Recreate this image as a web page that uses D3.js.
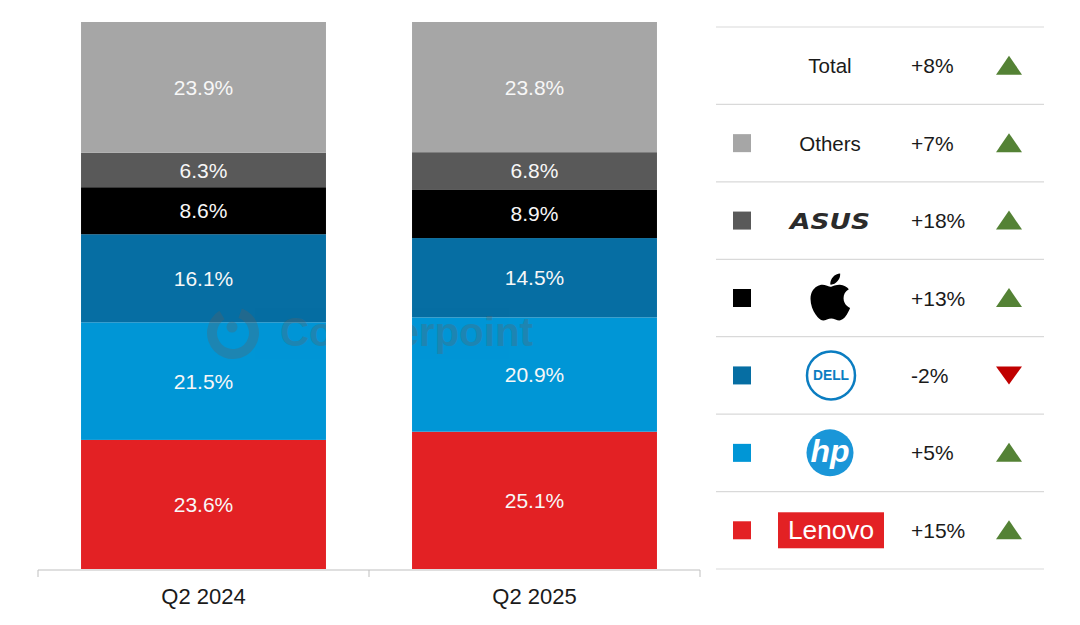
<!DOCTYPE html>
<html>
<head>
<meta charset="utf-8">
<script src="https://cdn.jsdelivr.net/npm/d3@7"></script>
<style>
  body { margin: 0; background: #fff; }
  svg { font-family: "Liberation Sans", Arial, sans-serif; }
</style>
</head>
<body>
<div id="chart"></div>
<script>
var svgWidth = 1080;
var svgHeight = 625;

// data, stacked from the bottom up
var quarters = ["Q2 2024", "Q2 2025"];
var brands = ["Lenovo", "HP", "Dell", "Apple", "ASUS", "Others"];
var share2024 = [23.6, 21.5, 16.1, 8.6, 6.3, 23.9];
var share2025 = [25.1, 20.9, 14.5, 8.9, 6.8, 23.8];
var brandColors = ["#e32124", "#0096d6", "#066ea3", "#000000", "#595959", "#a6a6a6"];

// legend table, top to bottom
var legendRows = ["Total", "Others", "ASUS", "Apple", "Dell", "HP", "Lenovo"];
var growth = ["+8%", "+7%", "+18%", "+13%", "-2%", "+5%", "+15%"];

var svg = d3.select("#chart")
  .append("svg")
  .attr("width", svgWidth)
  .attr("height", svgHeight);

var table = quarters.map(function(q, i) {
  var row = { quarter: q };
  var vals = i === 0 ? share2024 : share2025;
  brands.forEach(function(b, j) { row[b] = vals[j]; });
  return row;
});

var series = d3.stack().keys(brands)(table);

var xScale = d3.scaleBand()
  .domain(quarters)
  .range([38, 700])
  .paddingInner(0.26)
  .paddingOuter(0.13);

var xAxisScale = d3.scaleBand()
  .domain(quarters)
  .range([38, 700]);

var yScale = d3.scaleLinear()
  .domain([0, 100])
  .range([569, 22]);

var color = d3.scaleOrdinal().domain(brands).range(brandColors);

// bars
var layers = svg.append("g").selectAll("g")
  .data(series)
  .enter()
  .append("g")
  .attr("fill", d => color(d.key));

layers.selectAll("rect")
  .data(d => d)
  .enter()
  .append("rect")
  .attr("x", d => xScale(d.data.quarter))
  .attr("y", d => yScale(d[1]))
  .attr("width", xScale.bandwidth())
  .attr("height", d => yScale(d[0]) - yScale(d[1]));

// value labels
layers.selectAll("text")
  .data(d => d.map(v => ({ v: v, key: d.key })))
  .enter()
  .append("text")
  .attr("x", d => xScale(d.v.data.quarter) + xScale.bandwidth() / 2)
  .attr("y", d => (yScale(d.v[0]) + yScale(d.v[1])) / 2)
  .attr("dy", "0.36em")
  .attr("text-anchor", "middle")
  .attr("fill", "#f7f7f7")
  .attr("font-size", "21px")
  .text(d => (d.v[1] - d.v[0]).toFixed(1) + "%");

// watermark, only visible over the bars
var clip = svg.append("clipPath").attr("id", "barclip");
quarters.forEach(function(q) {
  clip.append("rect")
    .attr("x", xScale(q))
    .attr("y", yScale(100))
    .attr("width", xScale.bandwidth())
    .attr("height", yScale(0) - yScale(100));
});
var wm = svg.append("g")
  .attr("clip-path", "url(#barclip)")
  .attr("opacity", 0.3)
  .attr("fill", "#606060");
wm.append("path")
  .attr("transform", "translate(233,333)")
  .attr("d", d3.arc().innerRadius(16).outerRadius(26).startAngle(0.35).endAngle(2 * Math.PI - 0.55)());
wm.append("circle").attr("cx", 232).attr("cy", 327).attr("r", 5.5);
wm.append("text")
  .attr("x", 280)
  .attr("y", 346)
  .attr("font-size", "41px")
  .attr("font-weight", "bold")
  .attr("textLength", 253)
  .attr("lengthAdjust", "spacingAndGlyphs")
  .text("Counterpoint");

// x axis
var xAxis = svg.append("g")
  .attr("transform", "translate(0,570)")
  .call(d3.axisBottom(xAxisScale).tickSize(0).tickPadding(18));
xAxis.select(".domain").attr("stroke", "#bfbfbf").attr("d", "M38,0H700");
xAxis.selectAll("text")
  .attr("font-size", "22px")
  .attr("font-family", "Liberation Sans, Arial, sans-serif")
  .attr("fill", "#1a1a1a");
var boundaries = quarters.map(q => xAxisScale(q)).concat([xAxisScale.range()[1]]);
xAxis.selectAll("line.bound")
  .data(boundaries)
  .enter()
  .append("line")
  .attr("class", "bound")
  .attr("x1", d => d).attr("x2", d => d)
  .attr("y1", 0).attr("y2", 7)
  .attr("stroke", "#bfbfbf");

// legend table
var rowScale = d3.scaleBand()
  .domain(legendRows)
  .range([27, 569]);

var lineYs = legendRows.map(r => rowScale(r)).concat([rowScale.range()[1]]);
svg.append("g").selectAll("line")
  .data(lineYs)
  .enter()
  .append("line")
  .attr("x1", 716).attr("x2", 1044)
  .attr("y1", d => d).attr("y2", d => d)
  .attr("stroke", "#d9d9d9")
  .attr("stroke-width", 1.2);

var rows = svg.append("g").selectAll("g")
  .data(legendRows)
  .enter()
  .append("g")
  .attr("transform", d => "translate(0," + (rowScale(d) + rowScale.bandwidth() / 2) + ")");

// swatches
rows.filter(d => d !== "Total")
  .append("rect")
  .attr("x", 733).attr("y", -9)
  .attr("width", 18).attr("height", 18)
  .attr("fill", d => color(d));

// growth text
rows.append("text")
  .attr("x", 911)
  .attr("dy", "0.36em")
  .attr("font-size", "21px")
  .attr("fill", "#1a1a1a")
  .text((d, i) => growth[i]);

// arrows
rows.append("path")
  .attr("transform", "translate(1009,0)")
  .attr("d", (d, i) => growth[i].charAt(0) === "-" ? "M-13,-9L13,-9L0,9Z" : "M-13,9L13,9L0,-10Z")
  .attr("fill", (d, i) => growth[i].charAt(0) === "-" ? "#c00000" : "#548235");

// brand names / logos
rows.filter(d => d === "Total" || d === "Others")
  .append("text")
  .attr("x", 830)
  .attr("dy", "0.36em")
  .attr("text-anchor", "middle")
  .attr("font-size", "20.5px")
  .attr("fill", "#1a1a1a")
  .text(d => d);

rows.filter(d => d === "ASUS")
  .append("text")
  .attr("x", 790)
  .attr("y", 8)
  .attr("font-family", "DejaVu Sans, sans-serif")
  .attr("font-size", "22px")
  .attr("font-weight", "bold")
  .attr("font-style", "italic")
  .attr("fill", "#2b2b2b")
  .attr("textLength", 80)
  .attr("lengthAdjust", "spacingAndGlyphs")
  .text("ASUS");

rows.filter(d => d === "Apple")
  .append("path")
  .attr("transform", "translate(" + (830 - 84 * 0.29) + "," + (-1 - 85 * 0.29) + ") scale(0.29)")
  .attr("fill", "#000")
  .attr("d", "M150.37 130.25c-2.45 5.66-5.35 10.87-8.71 15.66-4.58 6.53-8.33 11.05-11.22 13.56-4.48 4.12-9.28 6.230-14.42 6.35-3.69 0-8.14-1.05-13.32-3.18-5.197-2.12-9.973-3.17-14.34-3.17-4.58 0-9.492 1.05-14.746 3.17-5.262 2.13-9.501 3.24-12.742 3.35-4.929 0.21-9.842-1.96-14.746-6.52-3.13-2.73-7.045-7.41-11.735-14.04-5.032-7.08-9.169-15.29-12.41-24.65-3.471-10.11-5.211-19.9-5.211-29.378 0-10.857 2.346-20.221 7.045-28.068 3.693-6.303 8.606-11.275 14.755-14.925s12.793-5.51 19.948-5.629c3.915 0 9.049 1.211 15.429 3.591 6.362 2.388 10.447 3.599 12.238 3.599 1.339 0 5.877-1.416 13.570-4.239 7.275-2.618 13.415-3.702 18.445-3.275 13.63 1.1 23.870 6.473 30.680 16.153-12.19 7.386-18.22 17.731-18.1 31.002 0.11 10.337 3.860 18.939 11.230 25.769 3.34 3.17 7.07 5.62 11.22 7.36-0.9 2.61-1.85 5.110-2.860 7.510zM119.11 7.24c0 8.102-2.96 15.667-8.86 22.669-7.12 8.324-15.732 13.134-25.071 12.375-0.119-0.972-0.188-1.995-0.188-3.07 0-7.778 3.386-16.102 9.399-22.908 3.002-3.446 6.82-6.311 11.45-8.597 4.62-2.252 8.99-3.497 13.1-3.71 0.12 1.083 0.17 2.166 0.17 3.24z");

var dell = rows.filter(d => d === "Dell");
dell.append("circle")
  .attr("cx", 831).attr("cy", 0).attr("r", 24)
  .attr("fill", "none")
  .attr("stroke", "#0b7dc1")
  .attr("stroke-width", 2.5);
dell.append("text")
  .attr("x", 831)
  .attr("dy", "0.35em")
  .attr("text-anchor", "middle")
  .attr("font-size", "14px")
  .attr("font-weight", "bold")
  .attr("fill", "#0b7dc1")
  .attr("textLength", 36)
  .attr("lengthAdjust", "spacingAndGlyphs")
  .text("DELL");

var hp = rows.filter(d => d === "HP");
hp.append("circle")
  .attr("cx", 830).attr("cy", 0).attr("r", 23.5)
  .attr("fill", "#1a96d8");
hp.append("text")
  .attr("x", 830)
  .attr("y", 9)
  .attr("text-anchor", "middle")
  .attr("font-size", "32px")
  .attr("font-weight", "bold")
  .attr("font-style", "italic")
  .attr("fill", "#fff")
  .text("hp");

var lenovo = rows.filter(d => d === "Lenovo");
lenovo.append("rect")
  .attr("x", 778).attr("y", -18)
  .attr("width", 106).attr("height", 36)
  .attr("fill", "#e32124");
lenovo.append("text")
  .attr("x", 831)
  .attr("dy", "0.36em")
  .attr("text-anchor", "middle")
  .attr("font-size", "25px")
  .attr("fill", "#fff")
  .attr("textLength", 86)
  .attr("lengthAdjust", "spacingAndGlyphs")
  .text("Lenovo");
</script>
</body>
</html>
